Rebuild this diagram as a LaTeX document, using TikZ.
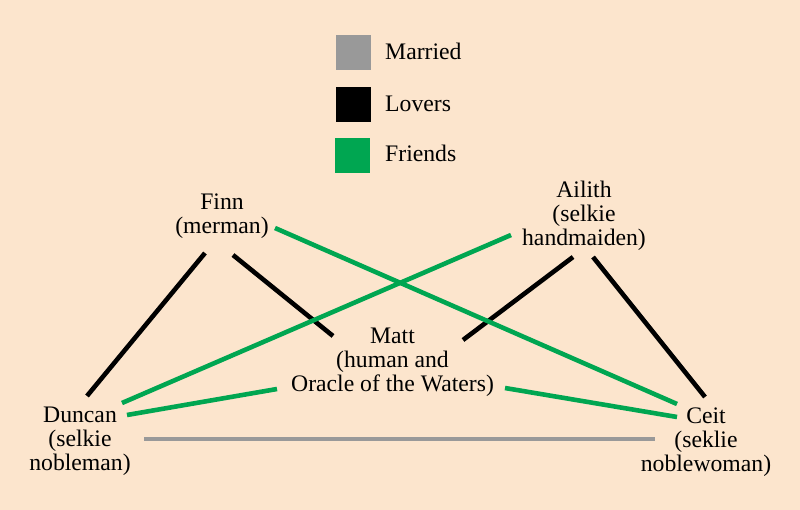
\documentclass[tikz,border=0pt]{standalone}
\usepackage{fontspec}
\setmainfont{Liberation Serif}
\definecolor{bg}{HTML}{FCE5CD}
\definecolor{mgray}{HTML}{999999}
\definecolor{fgreen}{HTML}{00A651}
\begin{document}
\begin{tikzpicture}[x=1pt,y=-1pt,
  lbl/.style={font=\fontsize{23.7}{24}\selectfont, align=center, inner sep=0pt, anchor=base},
  legtext/.style={font=\fontsize{23.7}{24}\selectfont, inner sep=0pt, anchor=base west},
  swatch/.style={minimum size=34.5pt, inner sep=0pt, anchor=north west},
  rel/.style={line width=4.6pt},
  married/.style={rel, draw=mgray},
  lovers/.style={rel, draw=black},
  friends/.style={rel, draw=fgreen}]
\fill[bg] (0,0) rectangle (800,510);
\useasboundingbox (0,0) rectangle (800,510);
% legend
\node[swatch, fill=mgray] (swm) at (336,35) {};
\node[swatch, fill=black] (swl) at (336,87) {};
\node[swatch, fill=fgreen] (swf) at (335,138) {};
\node[legtext] (tm) at (385,59.3) {Married};
\node[legtext] (tl) at (385,111.7) {Lovers};
\node[legtext] (tf) at (385,161.7) {Friends};
% people (anchor = baseline of last line)
\node[lbl] (finn) at (222,233.5) {Finn\\(merman)};
\node[lbl] (ailith) at (584,245.5) {Ailith\\(selkie\\handmaiden)};
\node[lbl] (matt) at (392.5,391.5) {Matt\\(human and\\Oracle of the Waters)};
\node[lbl] (duncan) at (80,470) {Duncan\\(selkie\\nobleman)};
\node[lbl] (ceit) at (706,471) {Ceit\\(seklie\\noblewoman)};
% connector ends
\coordinate (finnD) at (205,253);
\coordinate (finnM) at (233,255);
\coordinate (finnC) at (275,228);
\coordinate (ailM) at (573,257);
\coordinate (ailC) at (593,257);
\coordinate (ailD) at (511,235);
\coordinate (mattF) at (333,336);
\coordinate (mattA) at (463,340);
\coordinate (mattD) at (277,389);
\coordinate (mattC) at (505,388);
\coordinate (dunF) at (87,396);
\coordinate (dunA) at (122,403);
\coordinate (dunM) at (127,415);
\coordinate (dunC) at (144,439);
\coordinate (ceitF) at (677,404);
\coordinate (ceitA) at (705,397);
\coordinate (ceitM) at (677,417);
\coordinate (ceitD) at (655,439);
% relations
\draw[lovers] (finnD) -- (dunF);
\draw[lovers] (finnM) -- (mattF);
\draw[lovers] (ailM) -- (mattA);
\draw[lovers] (ailC) -- (ceitA);
\draw[friends] (finnC) -- (ceitF);
\draw[friends] (ailD) -- (dunA);
\draw[friends] (mattD) -- (dunM);
\draw[friends] (mattC) -- (ceitM);
\draw[married] (dunC) -- (ceitD);
\end{tikzpicture}
\end{document}
